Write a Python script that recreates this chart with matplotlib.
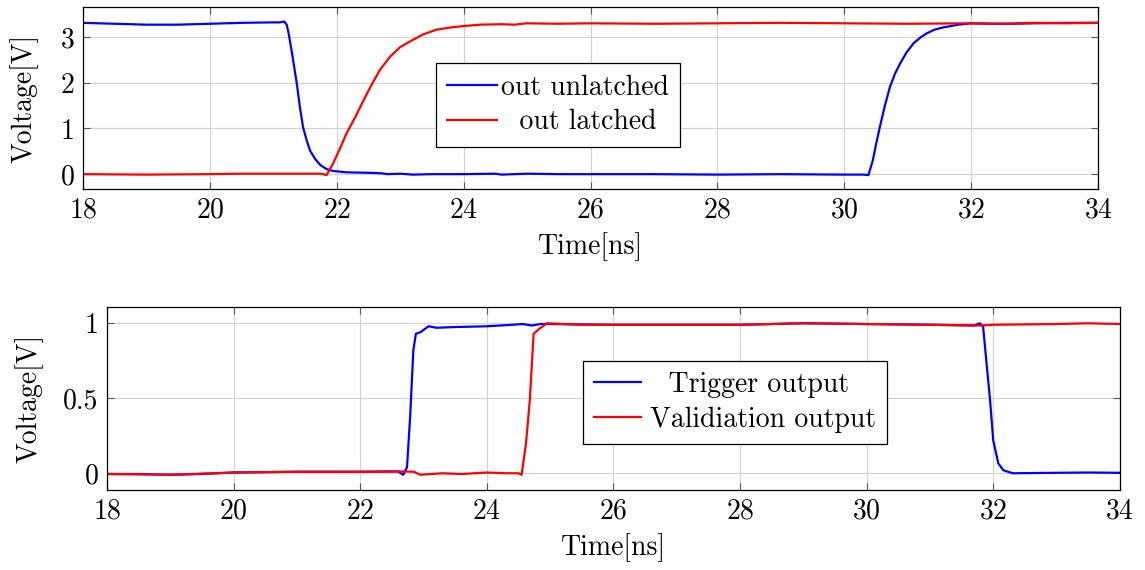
import matplotlib.pyplot as plt

plt.rcParams['font.family'] = ['cmr10', 'DejaVu Serif']
plt.rcParams['mathtext.fontset'] = 'cm'
plt.rcParams['axes.formatter.use_mathtext'] = True
plt.rcParams['font.size'] = 20

# top panel: out unlatched / out latched
t_unlatched = [18.0, 18.5, 19.0, 19.5, 20.0, 20.5, 21.0, 21.1, 21.17, 21.21, 21.24, 21.3, 21.37,
               21.42, 21.47, 21.53, 21.58, 21.66, 21.74, 21.84, 21.94, 22.15, 22.5, 22.7, 22.8,
               23.0, 23.2, 23.5, 24.0, 24.5, 24.6, 25.0, 25.5, 26.0, 27.0, 28.0, 29.0, 30.0,
               30.3, 30.38, 30.45, 30.5, 30.56, 30.64, 30.72, 30.8, 30.88, 30.98, 31.09, 31.2,
               31.3, 31.42, 31.56, 31.8, 32.0, 32.3, 32.6, 33.0, 33.5, 34.0]
v_unlatched = [3.31, 3.29, 3.27, 3.27, 3.29, 3.31, 3.32, 3.32, 3.34, 3.27, 3.09, 2.6, 1.98,
               1.45, 1.02, 0.72, 0.51, 0.33, 0.2, 0.11, 0.07, 0.04, 0.03, 0.02, 0.0,
               0.01, -0.01, 0.0, 0.0, 0.01, -0.01, 0.01, 0.0, 0.0, 0.0, -0.01, 0.0, -0.01,
               -0.01, -0.02, 0.3, 0.65, 1.03, 1.5, 1.91, 2.2, 2.42, 2.66, 2.86, 2.99,
               3.08, 3.16, 3.21, 3.27, 3.30, 3.29, 3.29, 3.30, 3.31, 3.31]

t_latched = [18.0, 19.0, 20.0, 20.5, 21.0, 21.5, 21.75, 21.84, 21.94, 22.05, 22.15, 22.3,
             22.42, 22.55, 22.68, 22.84, 23.0, 23.15, 23.35, 23.57, 23.8, 24.0, 24.26, 24.6,
             24.8, 25.0, 25.5, 26.0, 27.0, 28.0, 29.0, 30.0, 31.0, 32.0, 32.5, 33.0, 33.5,
             34.0]
v_latched = [0.0, -0.01, 0.0, 0.01, 0.01, 0.01, 0.01, -0.02, 0.23, 0.56, 0.88, 1.27,
             1.61, 1.96, 2.28, 2.57, 2.78, 2.90, 3.05, 3.16, 3.21, 3.24, 3.27, 3.28,
             3.27, 3.30, 3.29, 3.30, 3.29, 3.30, 3.31, 3.30, 3.29, 3.30, 3.29, 3.31, 3.30,
             3.31]

# bottom panel: trigger / validation output
t_trigger = [18.0, 18.5, 19.0, 19.5, 20.0, 21.0, 22.0, 22.6, 22.68, 22.74, 22.79, 22.84,
             22.88, 22.95, 23.08, 23.21, 23.5, 24.0, 24.4, 24.57, 24.71, 24.85, 25.0, 26.0,
             27.0, 28.0, 29.0, 30.0, 31.0, 31.7, 31.79, 31.84, 31.90, 31.95, 32.0, 32.08,
             32.16, 32.31, 33.0, 33.5, 34.0]
v_trigger = [-0.005, -0.005, -0.01, -0.005, 0.005, 0.01, 0.01, 0.012, -0.01, 0.04, 0.38, 0.82,
             0.93, 0.94, 0.98, 0.97, 0.975, 0.98, 0.99, 0.995, 0.985, 0.995, 0.995, 0.99,
             0.99, 0.99, 1.0, 0.995, 0.99, 0.985, 1.0, 0.98, 0.71, 0.49, 0.22, 0.066,
             0.02, 0.0, 0.003, 0.005, 0.003]

t_valid = [18.0, 19.0, 20.0, 21.0, 22.0, 22.7, 22.85, 22.95, 23.3, 23.6, 24.0, 24.3, 24.5,
           24.55, 24.62, 24.68, 24.74, 24.82, 24.95, 25.5, 26.0, 27.0, 28.0, 29.0, 30.0,
           31.0, 31.8, 32.0, 33.0, 33.5, 34.0]
v_valid = [-0.005, -0.01, 0.005, 0.01, 0.01, 0.012, 0.01, -0.01, 0.0, -0.005, 0.005, 0.0, 0.0,
           -0.01, 0.2, 0.49, 0.93, 0.96, 1.0, 0.99, 0.99, 0.99, 0.99, 1.0, 0.995,
           0.99, 0.985, 0.99, 0.995, 1.0, 0.995]


def style_axes(ax, yticks, yticklabels, ylabelpad):
    ax.set_xlim(18, 34)
    ax.set_xticks([18, 20, 22, 24, 26, 28, 30, 32, 34])
    ax.set_yticks(yticks)
    ax.set_yticklabels(yticklabels)
    ax.grid(True, color='#d0d0d0', linewidth=0.8)
    ax.set_axisbelow(True)
    ax.tick_params(direction='in', length=5, width=0.8, color='#555555',
                   top=True, right=True, labelsize=20, pad=6)
    for s in ax.spines.values():
        s.set_linewidth(0.9)
    ax.set_xlabel('Time[ns]', fontsize=20, labelpad=6)
    ax.set_ylabel('Voltage[V]', fontsize=20, labelpad=ylabelpad)


fig = plt.figure(figsize=(11.45, 5.70), dpi=100)

ax1 = fig.add_axes([0.0725, 0.668, 0.8865, 0.320])
ax1.plot(t_unlatched, v_unlatched, color='#0000ff', lw=1.6, label='out unlatched')
# legend text is centred in the original, so pad the shorter label
ax1.plot(t_latched, v_latched, color='#ff0000', lw=1.6, label='  out latched')
ax1.set_ylim(-0.33, 3.66)
style_axes(ax1, [0, 1, 2, 3], ['0', '1', '2', '3'], 16)
leg1 = ax1.legend(loc='center', bbox_to_anchor=(0.468, 0.462), fancybox=False,
                  edgecolor='black', framealpha=1, fontsize=20, handlelength=1.8,
                  handletextpad=0.15, borderpad=0.4, labelspacing=0.3)
leg1.get_frame().set_linewidth(0.9)

ax2 = fig.add_axes([0.0934, 0.140, 0.8846, 0.321])
ax2.plot(t_trigger, v_trigger, color='#0000ff', lw=1.6, label='  Trigger output')
ax2.plot(t_valid, v_valid, color='#ff0000', lw=1.6, label='Validiation output')
ax2.set_ylim(-0.113, 1.107)
style_axes(ax2, [0, 0.5, 1], ['0', '0.5', '1'], 14)
leg2 = ax2.legend(loc='center', bbox_to_anchor=(0.62, 0.481), fancybox=False,
                  edgecolor='black', framealpha=1, fontsize=20, handlelength=1.7,
                  handletextpad=0.3, borderpad=0.4, labelspacing=0.3)
leg2.get_frame().set_linewidth(0.9)

fig.savefig('out.png', dpi=100)
